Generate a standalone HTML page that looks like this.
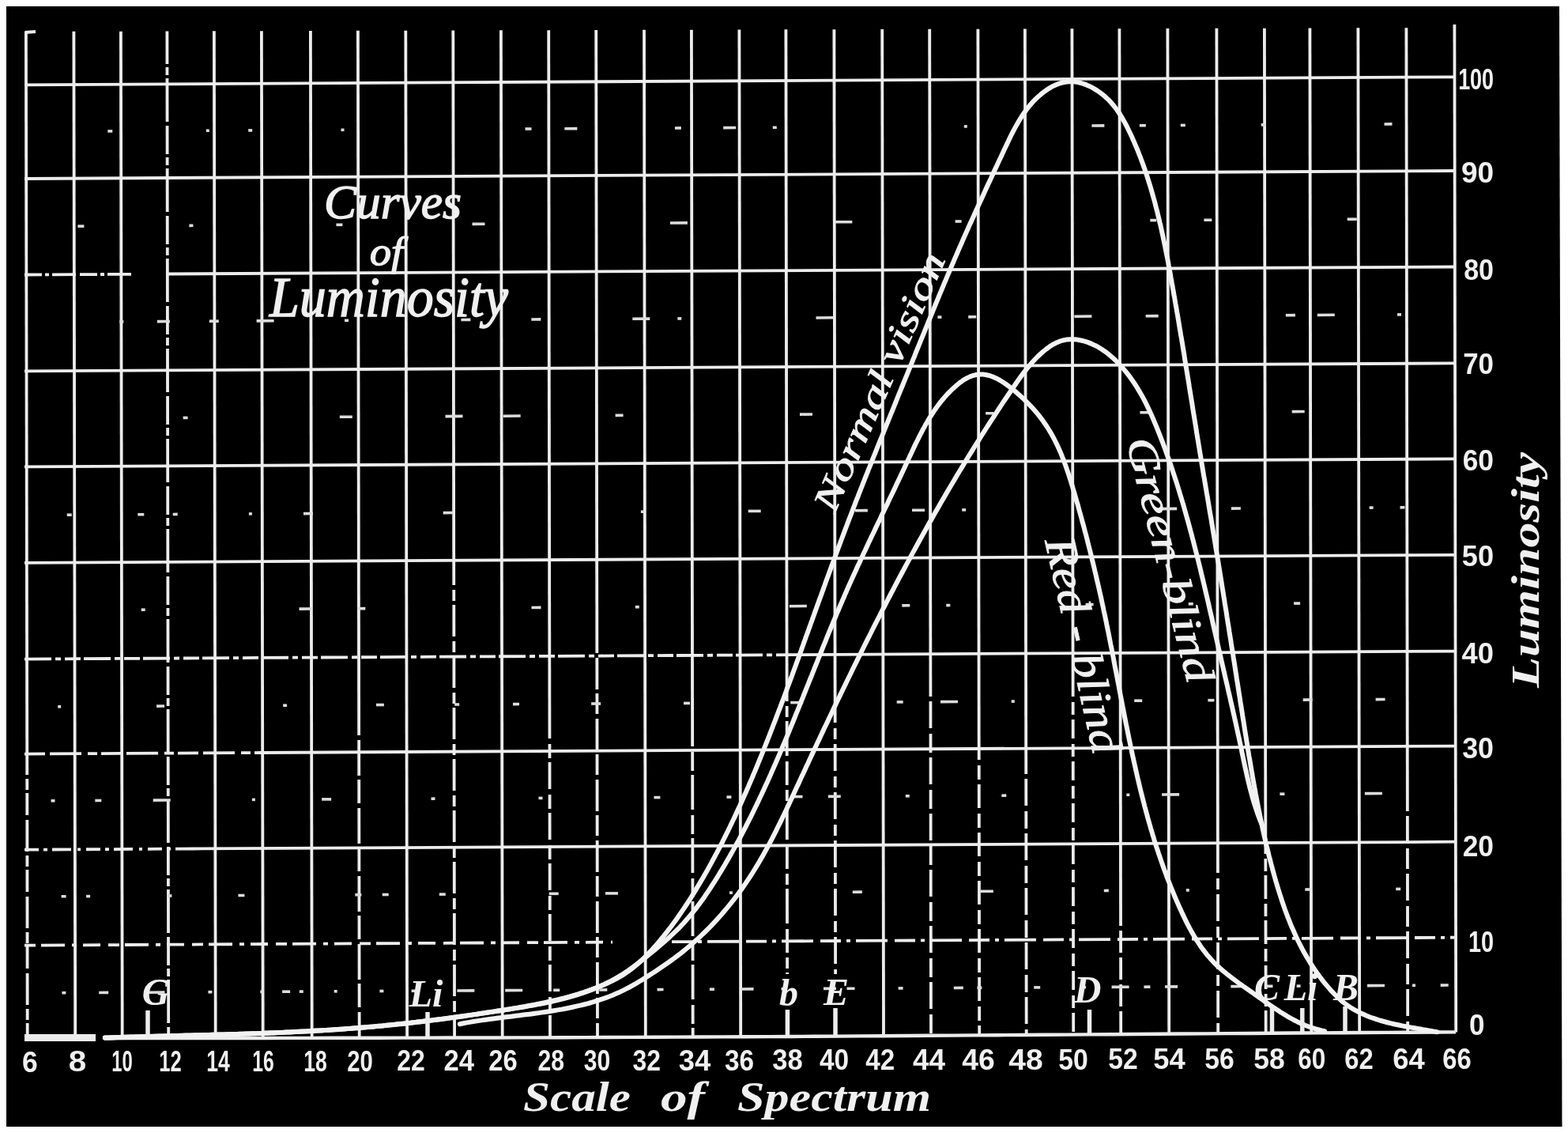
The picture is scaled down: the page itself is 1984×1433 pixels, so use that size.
<!DOCTYPE html><html><head><meta charset="utf-8"><style>html,body{margin:0;padding:0;background:#fff;overflow:hidden}svg{display:block}</style></head><body><svg width="1984" height="1433" viewBox="0 0 1984 1433">
<rect width="1984" height="1433" fill="#fff"/>
<polygon points="8,8 1973,8 1976.5,1425 8,1425" fill="#000"/>
<g stroke="#ececec" stroke-width="3.8" fill="none"><line x1="32.9" y1="40.0" x2="34.2" y2="940.0"/><line x1="34.2" y1="940.0" x2="34.7" y2="1313.3" stroke-dasharray="40 5 14 4 28 6"/><line x1="93.4" y1="39.8" x2="95.2" y2="1313.2"/><line x1="152.9" y1="39.7" x2="154.7" y2="1313.2"/><line x1="211.4" y1="39.5" x2="211.4" y2="45.0"/><line x1="211.4" y1="45.0" x2="213.2" y2="1313.1" stroke-dasharray="36 4 10 4 55 5"/><line x1="270.9" y1="39.3" x2="272.7" y2="1313.0"/><line x1="330.9" y1="39.2" x2="332.7" y2="1312.9"/><line x1="392.9" y1="39.0" x2="394.7" y2="1312.8"/><line x1="452.9" y1="38.8" x2="454.1" y2="900.0"/><line x1="454.1" y1="900.0" x2="454.7" y2="1312.7" stroke-dasharray="30 6 45 5"/><line x1="513.3" y1="38.7" x2="515.1" y2="1312.6"/><line x1="573.3" y1="38.5" x2="574.2" y2="700.0"/><line x1="574.2" y1="700.0" x2="575.1" y2="1312.5" stroke-dasharray="40 6 14 5"/><line x1="633.9" y1="38.3" x2="635.7" y2="1312.4"/><line x1="694.2" y1="38.2" x2="695.4" y2="900.0"/><line x1="695.4" y1="900.0" x2="696.0" y2="1312.3" stroke-dasharray="34 7 18 5"/><line x1="754.2" y1="38.0" x2="755.3" y2="800.0"/><line x1="755.3" y1="800.0" x2="756.0" y2="1312.1" stroke-dasharray="26 6 40 5"/><line x1="815.0" y1="37.8" x2="816.8" y2="1311.8"/><line x1="874.9" y1="37.7" x2="876.1" y2="900.0"/><line x1="876.1" y1="900.0" x2="876.7" y2="1311.5" stroke-dasharray="44 7 24 5"/><line x1="935.4" y1="37.5" x2="937.2" y2="1311.3"/><line x1="994.4" y1="37.3" x2="995.6" y2="857.0"/><line x1="995.6" y1="857.0" x2="996.1" y2="1232.0" stroke-dasharray="30 6 14 5 44 7"/><line x1="996.1" y1="1277.0" x2="996.2" y2="1311.0" stroke-dasharray="30 6 14 5 44 7"/><line x1="1055.4" y1="37.2" x2="1056.6" y2="880.0"/><line x1="1056.6" y1="880.0" x2="1057.1" y2="1232.0" stroke-dasharray="34 7 14 6"/><line x1="1057.1" y1="1275.0" x2="1057.2" y2="1310.6" stroke-dasharray="34 7 14 6"/><line x1="1116.2" y1="37.0" x2="1118.0" y2="1310.2"/><line x1="1176.2" y1="36.8" x2="1177.4" y2="857.0"/><line x1="1177.4" y1="857.0" x2="1178.0" y2="1309.8" stroke-dasharray="24 6 34 7"/><line x1="1237.4" y1="36.7" x2="1238.7" y2="931.0"/><line x1="1238.7" y1="931.0" x2="1239.2" y2="1309.4" stroke-dasharray="30 7 18 6"/><line x1="1296.9" y1="36.5" x2="1298.2" y2="957.0"/><line x1="1298.2" y1="957.0" x2="1298.7" y2="1309.0" stroke-dasharray="22 6 34 7"/><line x1="1356.4" y1="36.3" x2="1357.6" y2="857.0"/><line x1="1357.6" y1="857.0" x2="1358.2" y2="1308.6" stroke-dasharray="24 7 16 6"/><line x1="1416.4" y1="36.2" x2="1418.0" y2="1143.0"/><line x1="1418.0" y1="1143.0" x2="1418.2" y2="1308.1" stroke-dasharray="28 6"/><line x1="1477.4" y1="36.0" x2="1479.2" y2="1307.7"/><line x1="1539.4" y1="35.8" x2="1540.9" y2="1070.0"/><line x1="1540.9" y1="1070.0" x2="1541.2" y2="1307.2" stroke-dasharray="34 7 14 6"/><line x1="1599.9" y1="35.7" x2="1601.3" y2="1050.0"/><line x1="1601.3" y1="1050.0" x2="1601.7" y2="1306.8" stroke-dasharray="30 6 16 5"/><line x1="1657.4" y1="35.5" x2="1659.2" y2="1306.5"/><line x1="1718.4" y1="35.3" x2="1720.2" y2="1306.1"/><line x1="1779.4" y1="35.2" x2="1780.8" y2="1000.0"/><line x1="1780.8" y1="1000.0" x2="1781.2" y2="1305.8" stroke-dasharray="26 6 34 7"/><line x1="1840.4" y1="31.0" x2="1842.2" y2="1305.4"/><line x1="31.0" y1="107.3" x2="1842.0" y2="97.3"/><line x1="31.0" y1="226.0" x2="1842.0" y2="216.0"/><line x1="31.0" y1="469.4" x2="1842.0" y2="459.4"/><line x1="31.0" y1="590.4" x2="1842.0" y2="580.4"/><line x1="31.0" y1="711.8" x2="1842.0" y2="701.8"/><line x1="31.0" y1="347.5" x2="168.0" y2="346.8" stroke-dasharray="22 4 5 4 30 5"/><line x1="210.0" y1="346.5" x2="1842.0" y2="337.5"/><line x1="31.0" y1="833.6" x2="1000.0" y2="828.2" stroke-dasharray="34 5 7 5 20 4"/><line x1="1000.0" y1="828.2" x2="1842.0" y2="823.6"/><line x1="31.0" y1="953.6" x2="330.0" y2="952.0" stroke-dasharray="26 6 40 8 12 5"/><line x1="330.0" y1="952.0" x2="1842.0" y2="943.6"/><line x1="31.0" y1="1074.7" x2="245.0" y2="1073.5" stroke-dasharray="18 6 5 6 24 8 4 7"/><line x1="245.0" y1="1073.5" x2="1842.0" y2="1064.7"/><line x1="31.0" y1="1195.7" x2="775.0" y2="1191.6" stroke-dasharray="14 7 30 9 6 8 22 10"/><line x1="850.0" y1="1191.2" x2="1842.0" y2="1185.7" stroke-dasharray="26 7 5 7 40 9"/></g>
<g stroke="#dcdcdc" stroke-width="3.6" fill="none"><line x1="136.3" y1="165.9" x2="142.3" y2="165.9"/><line x1="260.8" y1="165.2" x2="264.8" y2="165.2"/><line x1="314.2" y1="164.9" x2="319.2" y2="164.9"/><line x1="431.5" y1="164.3" x2="435.5" y2="164.3"/><line x1="664.5" y1="163.0" x2="672.5" y2="163.0"/><line x1="714.4" y1="162.7" x2="730.4" y2="162.6"/><line x1="853.9" y1="162.0" x2="861.9" y2="161.9"/><line x1="915.2" y1="161.6" x2="931.2" y2="161.5"/><line x1="977.8" y1="161.3" x2="982.8" y2="161.2"/><line x1="1219.8" y1="159.9" x2="1223.8" y2="159.9"/><line x1="1381.4" y1="159.0" x2="1397.4" y2="158.9"/><line x1="1441.9" y1="158.7" x2="1449.9" y2="158.7"/><line x1="1493.8" y1="158.4" x2="1499.8" y2="158.4"/><line x1="1595.7" y1="157.9" x2="1601.7" y2="157.8"/><line x1="1751.5" y1="157.0" x2="1761.5" y2="156.9"/><line x1="98.4" y1="286.1" x2="106.4" y2="286.1"/><line x1="239.4" y1="285.4" x2="244.4" y2="285.3"/><line x1="425.4" y1="284.3" x2="433.4" y2="284.3"/><line x1="597.5" y1="283.4" x2="613.5" y2="283.3"/><line x1="847.9" y1="282.0" x2="869.9" y2="281.9"/><line x1="1056.3" y1="280.8" x2="1078.3" y2="280.7"/><line x1="1208.6" y1="280.0" x2="1216.6" y2="280.0"/><line x1="1455.3" y1="278.6" x2="1463.3" y2="278.6"/><line x1="1523.4" y1="278.3" x2="1533.4" y2="278.2"/><line x1="1704.7" y1="277.2" x2="1716.7" y2="277.2"/><line x1="151.3" y1="406.8" x2="156.3" y2="406.8"/><line x1="198.9" y1="406.6" x2="214.9" y2="406.5"/><line x1="264.8" y1="406.2" x2="276.8" y2="406.2"/><line x1="324.6" y1="405.9" x2="346.6" y2="405.8"/><line x1="436.0" y1="405.3" x2="441.0" y2="405.2"/><line x1="583.4" y1="404.5" x2="595.4" y2="404.4"/><line x1="672.3" y1="404.0" x2="684.3" y2="403.9"/><line x1="800.3" y1="403.3" x2="822.3" y2="403.1"/><line x1="857.3" y1="402.9" x2="862.3" y2="402.9"/><line x1="1032.5" y1="402.0" x2="1054.5" y2="401.8"/><line x1="1186.4" y1="401.1" x2="1191.4" y2="401.1"/><line x1="1225.2" y1="400.9" x2="1235.2" y2="400.8"/><line x1="1359.4" y1="400.2" x2="1381.4" y2="400.0"/><line x1="1449.7" y1="399.7" x2="1465.7" y2="399.6"/><line x1="1626.9" y1="398.7" x2="1638.9" y2="398.6"/><line x1="1666.8" y1="398.5" x2="1688.8" y2="398.3"/><line x1="1768.0" y1="397.9" x2="1773.0" y2="397.9"/><line x1="231.6" y1="528.4" x2="237.6" y2="528.4"/><line x1="429.8" y1="527.3" x2="445.8" y2="527.2"/><line x1="563.5" y1="526.6" x2="585.5" y2="526.4"/><line x1="636.7" y1="526.2" x2="658.7" y2="526.0"/><line x1="778.6" y1="525.4" x2="788.6" y2="525.3"/><line x1="1012.0" y1="524.1" x2="1028.0" y2="524.0"/><line x1="1247.1" y1="522.8" x2="1257.1" y2="522.7"/><line x1="1442.4" y1="521.7" x2="1454.4" y2="521.6"/><line x1="1634.7" y1="520.6" x2="1650.7" y2="520.5"/><line x1="84.7" y1="651.2" x2="90.7" y2="651.2"/><line x1="174.3" y1="650.7" x2="182.3" y2="650.7"/><line x1="218.7" y1="650.5" x2="224.7" y2="650.4"/><line x1="314.9" y1="649.9" x2="318.9" y2="649.9"/><line x1="384.0" y1="649.6" x2="396.0" y2="649.5"/><line x1="560.7" y1="648.6" x2="572.7" y2="648.5"/><line x1="810.9" y1="647.2" x2="814.9" y2="647.2"/><line x1="946.7" y1="646.4" x2="962.7" y2="646.4"/><line x1="1081.9" y1="645.7" x2="1097.9" y2="645.6"/><line x1="1154.0" y1="645.3" x2="1170.0" y2="645.2"/><line x1="1217.2" y1="644.9" x2="1222.2" y2="644.9"/><line x1="1467.2" y1="643.6" x2="1489.2" y2="643.4"/><line x1="1557.9" y1="643.1" x2="1569.9" y2="643.0"/><line x1="1732.6" y1="642.1" x2="1737.6" y2="642.1"/><line x1="1771.5" y1="641.9" x2="1777.5" y2="641.8"/><line x1="178.7" y1="771.2" x2="183.7" y2="771.2"/><line x1="378.5" y1="770.1" x2="394.5" y2="770.0"/><line x1="452.3" y1="769.7" x2="462.3" y2="769.6"/><line x1="672.5" y1="768.5" x2="684.5" y2="768.4"/><line x1="803.8" y1="767.7" x2="808.8" y2="767.7"/><line x1="998.8" y1="766.7" x2="1020.8" y2="766.5"/><line x1="1141.3" y1="765.9" x2="1151.3" y2="765.8"/><line x1="1197.3" y1="765.6" x2="1202.3" y2="765.5"/><line x1="1373.6" y1="764.6" x2="1383.6" y2="764.5"/><line x1="1503.8" y1="763.9" x2="1509.8" y2="763.8"/><line x1="1637.1" y1="763.1" x2="1645.1" y2="763.1"/><line x1="73.2" y1="893.8" x2="77.2" y2="893.8"/><line x1="198.1" y1="893.1" x2="208.1" y2="893.0"/><line x1="358.1" y1="892.2" x2="363.1" y2="892.2"/><line x1="475.9" y1="891.5" x2="485.9" y2="891.5"/><line x1="575.2" y1="891.0" x2="581.2" y2="891.0"/><line x1="649.0" y1="890.6" x2="657.0" y2="890.5"/><line x1="748.1" y1="890.0" x2="760.1" y2="890.0"/><line x1="865.0" y1="889.4" x2="873.0" y2="889.4"/><line x1="1000.2" y1="888.6" x2="1016.2" y2="888.6"/><line x1="1134.7" y1="887.9" x2="1142.7" y2="887.9"/><line x1="1190.0" y1="887.6" x2="1212.0" y2="887.5"/><line x1="1279.8" y1="887.1" x2="1283.8" y2="887.1"/><line x1="1435.2" y1="886.2" x2="1445.2" y2="886.2"/><line x1="1528.4" y1="885.7" x2="1536.4" y2="885.7"/><line x1="1648.7" y1="885.1" x2="1660.7" y2="885.0"/><line x1="1740.6" y1="884.6" x2="1752.6" y2="884.5"/><line x1="64.5" y1="1012.8" x2="69.5" y2="1012.8"/><line x1="120.3" y1="1012.5" x2="128.3" y2="1012.5"/><line x1="193.7" y1="1012.1" x2="215.7" y2="1012.0"/><line x1="318.9" y1="1011.4" x2="322.9" y2="1011.4"/><line x1="407.1" y1="1010.9" x2="419.1" y2="1010.9"/><line x1="545.5" y1="1010.2" x2="550.5" y2="1010.1"/><line x1="681.5" y1="1009.4" x2="686.5" y2="1009.4"/><line x1="827.4" y1="1008.6" x2="835.4" y2="1008.6"/><line x1="919.4" y1="1008.1" x2="925.4" y2="1008.1"/><line x1="1003.5" y1="1007.6" x2="1015.5" y2="1007.6"/><line x1="1047.8" y1="1007.4" x2="1063.8" y2="1007.3"/><line x1="1145.8" y1="1006.8" x2="1150.8" y2="1006.8"/><line x1="1267.3" y1="1006.2" x2="1273.3" y2="1006.1"/><line x1="1425.3" y1="1005.3" x2="1429.3" y2="1005.3"/><line x1="1470.1" y1="1005.0" x2="1492.1" y2="1004.9"/><line x1="1619.4" y1="1004.2" x2="1625.4" y2="1004.2"/><line x1="1726.9" y1="1003.6" x2="1748.9" y2="1003.5"/><line x1="77.6" y1="1133.8" x2="83.6" y2="1133.7"/><line x1="109.1" y1="1133.6" x2="114.1" y2="1133.6"/><line x1="211.4" y1="1133.0" x2="217.4" y2="1133.0"/><line x1="301.4" y1="1132.5" x2="309.4" y2="1132.5"/><line x1="449.3" y1="1131.7" x2="457.3" y2="1131.7"/><line x1="483.7" y1="1131.5" x2="491.7" y2="1131.5"/><line x1="555.8" y1="1131.1" x2="563.8" y2="1131.1"/><line x1="694.7" y1="1130.3" x2="706.7" y2="1130.3"/><line x1="766.0" y1="1129.9" x2="782.0" y2="1129.9"/><line x1="923.0" y1="1129.1" x2="927.0" y2="1129.1"/><line x1="1078.8" y1="1128.2" x2="1090.8" y2="1128.1"/><line x1="1240.8" y1="1127.3" x2="1256.8" y2="1127.2"/><line x1="1396.8" y1="1126.5" x2="1402.8" y2="1126.4"/><line x1="1500.8" y1="1125.9" x2="1504.8" y2="1125.9"/><line x1="1651.3" y1="1125.0" x2="1657.3" y2="1125.0"/><line x1="1766.2" y1="1124.4" x2="1772.2" y2="1124.4"/><line x1="78.4" y1="1255.7" x2="83.4" y2="1255.7"/><line x1="125.2" y1="1255.5" x2="137.2" y2="1255.4"/><line x1="186.4" y1="1255.2" x2="208.4" y2="1255.0"/><line x1="263.4" y1="1254.7" x2="268.4" y2="1254.7"/><line x1="329.3" y1="1254.4" x2="333.3" y2="1254.3"/><line x1="357.1" y1="1254.2" x2="367.1" y2="1254.2"/><line x1="378.8" y1="1254.1" x2="383.8" y2="1254.1"/><line x1="422.7" y1="1253.8" x2="426.7" y2="1253.8"/><line x1="480.4" y1="1253.5" x2="485.4" y2="1253.5"/><line x1="520.6" y1="1253.3" x2="528.6" y2="1253.3"/><line x1="578.3" y1="1253.0" x2="600.3" y2="1252.9"/><line x1="639.2" y1="1252.6" x2="661.2" y2="1252.5"/><line x1="700.2" y1="1252.3" x2="708.2" y2="1252.3"/><line x1="758.3" y1="1252.0" x2="768.3" y2="1251.9"/><line x1="831.5" y1="1251.6" x2="839.5" y2="1251.5"/><line x1="897.9" y1="1251.2" x2="903.9" y2="1251.2"/><line x1="937.5" y1="1251.0" x2="953.5" y2="1250.9"/><line x1="988.5" y1="1250.7" x2="993.5" y2="1250.7"/><line x1="1042.0" y1="1250.4" x2="1058.0" y2="1250.3"/><line x1="1071.5" y1="1250.3" x2="1081.5" y2="1250.2"/><line x1="1136.6" y1="1249.9" x2="1142.6" y2="1249.9"/><line x1="1206.8" y1="1249.5" x2="1218.8" y2="1249.4"/><line x1="1236.4" y1="1249.3" x2="1242.4" y2="1249.3"/><line x1="1308.2" y1="1248.9" x2="1316.2" y2="1248.9"/><line x1="1369.1" y1="1248.6" x2="1374.1" y2="1248.6"/><line x1="1406.6" y1="1248.4" x2="1428.6" y2="1248.3"/><line x1="1447.4" y1="1248.2" x2="1455.4" y2="1248.1"/><line x1="1474.0" y1="1248.0" x2="1490.0" y2="1247.9"/><line x1="1557.4" y1="1247.6" x2="1573.4" y2="1247.5"/><line x1="1602.5" y1="1247.3" x2="1610.5" y2="1247.3"/><line x1="1640.6" y1="1247.1" x2="1645.6" y2="1247.1"/><line x1="1697.0" y1="1246.8" x2="1701.0" y2="1246.8"/><line x1="1730.0" y1="1246.6" x2="1752.0" y2="1246.5"/><line x1="1787.0" y1="1246.3" x2="1791.0" y2="1246.3"/><line x1="1822.7" y1="1246.1" x2="1832.7" y2="1246.0"/></g>
<polyline points="132.0,1313.19 161.0,1313.16 190.0,1313.12 218.9,1313.09 247.9,1313.06 276.9,1313.03 305.9,1312.99 334.9,1312.94 363.9,1312.89 392.8,1312.84 421.8,1312.79 450.8,1312.74 479.8,1312.69 508.8,1312.63 537.8,1312.58 566.7,1312.53 595.7,1312.48 624.7,1312.43 653.7,1312.38 682.7,1312.33 711.7,1312.25 740.6,1312.12 769.6,1312.00 798.6,1311.87 827.6,1311.75 856.6,1311.62 885.6,1311.50 914.5,1311.37 943.5,1311.24 972.5,1311.12 1001.5,1310.99 1030.5,1310.79 1059.5,1310.59 1088.4,1310.39 1117.4,1310.20 1146.4,1310.00 1175.4,1309.80 1204.4,1309.60 1233.4,1309.40 1262.3,1309.21 1291.3,1309.01 1320.3,1308.81 1349.3,1308.61 1378.3,1308.41 1407.3,1308.20 1436.2,1307.99 1465.2,1307.78 1494.2,1307.57 1523.2,1307.36 1552.2,1307.15 1581.2,1306.94 1610.1,1306.74 1639.1,1306.57 1668.1,1306.41 1697.1,1306.24 1726.1,1306.07 1755.1,1305.90 1784.0,1305.74 1813.0,1305.57 1842.0,1305.40" fill="none" stroke="#ececec" stroke-width="4.4"/>
<rect x="31" y="1308" width="90" height="9" fill="#ececec"/>
<line x1="31.5" y1="41" x2="45" y2="40" stroke="#ececec" stroke-width="3.8"/>
<g stroke="#f2f2f2" stroke-width="6" fill="none" stroke-linecap="round" stroke-linejoin="round"><path d="M132.8,1312.5L136.5,1312.4 140.2,1312.3 143.9,1312.2 147.6,1312.1 151.3,1312.0 155.0,1311.9 158.7,1311.8 162.4,1311.7 166.0,1311.6 169.7,1311.5 173.4,1311.4 177.1,1311.3 180.8,1311.2 184.5,1311.1 188.2,1311.0 191.9,1310.9 195.6,1310.8 199.3,1310.7 203.0,1310.6 206.7,1310.5 210.4,1310.4 214.1,1310.3 217.8,1310.2 221.5,1310.1 225.2,1310.0 228.9,1309.9 232.6,1309.8 236.3,1309.7 240.0,1309.7 243.7,1309.6 247.4,1309.5 251.1,1309.4 254.8,1309.3 258.5,1309.2 262.1,1309.1 265.8,1309.0 269.5,1308.8 273.2,1308.7 276.9,1308.6 280.6,1308.5 284.3,1308.4 288.0,1308.3 291.7,1308.2 295.4,1308.1 299.1,1307.9 302.8,1307.8 306.5,1307.7 310.2,1307.6 313.9,1307.5 317.6,1307.3 321.3,1307.2 325.0,1307.1 328.7,1306.9 332.4,1306.8 336.1,1306.6 339.8,1306.5 343.5,1306.3 347.2,1306.2 350.9,1306.0 354.6,1305.9 358.3,1305.7 361.9,1305.5 365.6,1305.4 369.3,1305.2 373.0,1305.0 376.7,1304.8 380.4,1304.6 384.1,1304.4 387.8,1304.3 391.5,1304.1 395.2,1303.8 398.9,1303.6 402.6,1303.4 406.3,1303.2 409.9,1303.0 413.6,1302.8 417.3,1302.5 421.0,1302.3 424.7,1302.0 428.4,1301.8 432.1,1301.5 435.8,1301.3 439.4,1301.0 443.1,1300.8 446.8,1300.5 450.5,1300.2 454.2,1299.9 457.9,1299.6 461.6,1299.3 465.2,1299.0 468.9,1298.7 472.6,1298.4 476.3,1298.1 480.0,1297.7 483.6,1297.4 487.3,1297.1 491.0,1296.7 494.7,1296.3 498.4,1296.0 502.0,1295.6 505.7,1295.2 509.4,1294.9 513.1,1294.5 516.7,1294.1 520.4,1293.7 524.1,1293.2 527.7,1292.8 531.4,1292.4 535.1,1292.0 538.8,1291.5 542.4,1291.1 546.1,1290.6 549.8,1290.1 553.4,1289.7 557.1,1289.2 560.8,1288.7 564.4,1288.2 568.1,1287.7 571.8,1287.2 575.4,1286.7 579.1,1286.2 582.7,1285.7 586.4,1285.2 590.1,1284.7 593.7,1284.1 597.4,1283.6 601.0,1283.0 604.7,1282.5 608.4,1281.9 612.0,1281.4 615.7,1280.8 619.3,1280.3 623.0,1279.7 626.7,1279.1 630.3,1278.5 634.0,1278.0 637.6,1277.4 641.3,1276.8 644.9,1276.2 648.6,1275.6 652.2,1275.0 655.9,1274.4 659.5,1273.7 663.2,1273.1 666.8,1272.4 670.4,1271.8 674.1,1271.1 677.7,1270.4 681.3,1269.7 685.0,1268.9 688.6,1268.2 692.2,1267.4 695.8,1266.6 699.4,1265.8 703.0,1265.0 706.6,1264.1 710.2,1263.2 713.7,1262.3 717.3,1261.3 720.9,1260.4 724.4,1259.4 728.0,1258.3 731.5,1257.3 735.0,1256.1 738.5,1255.0 742.0,1253.8 745.5,1252.6 749.0,1251.4 752.5,1250.1 756.0,1248.7 759.4,1247.3 762.9,1245.9 766.3,1244.4 769.7,1242.9 773.0,1241.3 776.4,1239.7 779.6,1238.0 782.9,1236.2 786.1,1234.3 789.2,1232.4 792.3,1230.3 795.3,1228.2 798.2,1226.1 801.1,1223.8 804.0,1221.5 806.8,1219.1 809.5,1216.7 812.3,1214.2 814.9,1211.6 817.5,1209.0 820.1,1206.4 822.7,1203.7 825.2,1201.0 827.6,1198.3 830.1,1195.5 832.5,1192.7 834.9,1189.8 837.2,1187.0 839.6,1184.1 841.9,1181.2 844.2,1178.3 846.4,1175.4 848.7,1172.5 850.9,1169.5 853.1,1166.5 855.3,1163.6 857.4,1160.5 859.5,1157.5 861.6,1154.5 863.7,1151.4 865.8,1148.4 867.8,1145.3 869.9,1142.2 871.9,1139.1 873.9,1136.0 875.8,1132.9 877.8,1129.7 879.7,1126.6 881.6,1123.4 883.5,1120.2 885.4,1117.1 887.3,1113.9 889.2,1110.7 891.0,1107.5 892.9,1104.3 894.7,1101.1 896.5,1097.9 898.3,1094.6 900.1,1091.4 901.8,1088.2 903.6,1084.9 905.3,1081.6 907.1,1078.4 908.8,1075.1 910.5,1071.8 912.2,1068.6 913.9,1065.3 915.5,1062.0 917.2,1058.7 918.8,1055.4 920.5,1052.1 922.1,1048.8 923.7,1045.5 925.3,1042.1 926.9,1038.8 928.5,1035.5 930.1,1032.1 931.6,1028.8 933.2,1025.4 934.7,1022.1 936.3,1018.7 937.8,1015.3 939.3,1012.0 940.8,1008.6 942.3,1005.2 943.8,1001.9 945.3,998.5 946.8,995.1 948.2,991.7 949.7,988.3 951.2,984.9 952.6,981.5 954.0,978.1 955.5,974.7 956.9,971.3 958.3,967.8 959.7,964.4 961.1,961.0 962.5,957.6 963.9,954.1 965.3,950.7 966.7,947.3 968.0,943.8 969.4,940.4 970.8,937.0 972.1,933.5 973.5,930.1 974.8,926.6 976.2,923.2 977.5,919.7 978.8,916.3 980.2,912.8 981.5,909.4 982.8,905.9 984.1,902.5 985.4,899.0 986.8,895.6 988.1,892.1 989.4,888.6 990.7,885.2 992.0,881.7 993.3,878.2 994.6,874.8 995.8,871.3 997.1,867.8 998.4,864.4 999.7,860.9 1001.0,857.4 1002.3,854.0 1003.5,850.5 1004.8,847.0 1006.1,843.6 1007.3,840.1 1008.6,836.6 1009.9,833.1 1011.1,829.7 1012.4,826.2 1013.7,822.7 1014.9,819.2 1016.2,815.8 1017.4,812.3 1018.7,808.8 1019.9,805.3 1021.2,801.8 1022.5,798.4 1023.7,794.9 1025.0,791.4 1026.2,787.9 1027.5,784.5 1028.7,781.0 1030.0,777.5 1031.2,774.0 1032.5,770.5 1033.7,767.1 1035.0,763.6 1036.2,760.1 1037.5,756.6 1038.8,753.2 1040.0,749.7 1041.3,746.2 1042.5,742.7 1043.8,739.3 1045.0,735.8 1046.3,732.3 1047.6,728.8 1048.8,725.4 1050.1,721.9 1051.4,718.4 1052.6,715.0 1053.9,711.5 1055.2,708.0 1056.5,704.6 1057.7,701.1 1059.0,697.6 1060.3,694.2 1061.6,690.7 1062.9,687.2 1064.2,683.8 1065.5,680.3 1066.8,676.9 1068.1,673.4 1069.4,669.9 1070.7,666.5 1072.0,663.0 1073.3,659.6 1074.6,656.1 1076.0,652.7 1077.3,649.2 1078.6,645.8 1079.9,642.3 1081.3,638.9 1082.6,635.4 1083.9,632.0 1085.3,628.6 1086.6,625.1 1088.0,621.7 1089.3,618.2 1090.7,614.8 1092.0,611.4 1093.4,607.9 1094.7,604.5 1096.1,601.1 1097.5,597.6 1098.8,594.2 1100.2,590.8 1101.6,587.3 1102.9,583.9 1104.3,580.5 1105.7,577.0 1107.1,573.6 1108.5,570.2 1109.8,566.7 1111.2,563.3 1112.6,559.9 1114.0,556.5 1115.4,553.0 1116.8,549.6 1118.1,546.2 1119.5,542.8 1120.9,539.3 1122.3,535.9 1123.7,532.5 1125.1,529.1 1126.5,525.6 1127.9,522.2 1129.3,518.8 1130.7,515.4 1132.1,511.9 1133.5,508.5 1134.8,505.1 1136.2,501.7 1137.6,498.2 1139.0,494.8 1140.4,491.4 1141.8,488.0 1143.2,484.5 1144.6,481.1 1146.0,477.7 1147.4,474.3 1148.8,470.8 1150.2,467.4 1151.6,464.0 1153.0,460.6 1154.4,457.1 1155.8,453.7 1157.2,450.3 1158.5,446.9 1159.9,443.4 1161.3,440.0 1162.7,436.6 1164.1,433.1 1165.5,429.7 1166.9,426.3 1168.3,422.9 1169.7,419.4 1171.1,416.0 1172.5,412.6 1173.9,409.2 1175.3,405.7 1176.7,402.3 1178.1,398.9 1179.5,395.5 1180.9,392.0 1182.3,388.6 1183.7,385.2 1185.1,381.8 1186.5,378.4 1187.9,375.0 1189.3,371.5 1190.8,368.1 1192.2,364.7 1193.6,361.3 1195.0,357.9 1196.5,354.5 1197.9,351.1 1199.3,347.7 1200.8,344.3 1202.2,340.9 1203.7,337.5 1205.1,334.1 1206.6,330.7 1208.0,327.3 1209.5,323.9 1211.0,320.5 1212.4,317.2 1213.9,313.8 1215.4,310.4 1216.9,307.0 1218.3,303.7 1219.8,300.3 1221.3,296.9 1222.8,293.5 1224.3,290.2 1225.8,286.8 1227.3,283.4 1228.9,280.1 1230.4,276.7 1231.9,273.4 1233.4,270.0 1234.9,266.6 1236.5,263.3 1238.0,259.9 1239.5,256.6 1241.1,253.2 1242.6,249.9 1244.2,246.5 1245.7,243.1 1247.2,239.8 1248.8,236.4 1250.3,233.1 1251.9,229.7 1253.5,226.4 1255.0,223.0 1256.6,219.6 1258.1,216.3 1259.7,212.9 1261.3,209.6 1262.8,206.2 1264.4,202.8 1266.0,199.5 1267.6,196.1 1269.1,192.7 1270.7,189.3 1272.3,186.0 1273.9,182.6 1275.5,179.2 1277.1,175.9 1278.7,172.5 1280.4,169.2 1282.1,165.9 1283.8,162.6 1285.6,159.4 1287.4,156.2 1289.3,153.0 1291.2,149.8 1293.2,146.7 1295.2,143.7 1297.3,140.7 1299.5,137.7 1301.8,134.8 1304.2,132.0 1306.6,129.2 1309.2,126.5 1311.9,123.9 1314.6,121.4 1317.5,118.9 1320.4,116.6 1323.4,114.4 1326.5,112.3 1329.7,110.4 1332.9,108.7 1336.2,107.2 1339.6,105.9 1343.0,104.9 1346.4,104.0 1349.9,103.5 1353.5,103.2 1357.0,103.2 1360.6,103.5 1364.2,104.1 1367.7,105.0 1371.3,106.1 1374.8,107.4 1378.3,108.9 1381.7,110.7 1385.1,112.6 1388.3,114.6 1391.5,116.8 1394.6,119.1 1397.5,121.5 1400.3,124.1 1403.0,126.7 1405.6,129.4 1408.0,132.2 1410.3,135.0 1412.6,138.0 1414.7,141.0 1416.7,144.0 1418.7,147.1 1420.5,150.3 1422.3,153.4 1424.1,156.7 1425.8,159.9 1427.4,163.2 1429.0,166.5 1430.6,169.8 1432.1,173.1 1433.6,176.5 1435.1,179.8 1436.5,183.2 1438.0,186.6 1439.4,190.0 1440.7,193.4 1442.1,196.8 1443.4,200.2 1444.7,203.7 1445.9,207.1 1447.2,210.6 1448.4,214.0 1449.6,217.5 1450.8,221.0 1451.9,224.5 1453.0,228.0 1454.1,231.5 1455.2,235.0 1456.3,238.6 1457.3,242.1 1458.3,245.6 1459.3,249.2 1460.3,252.8 1461.3,256.3 1462.2,259.9 1463.1,263.5 1464.1,267.1 1464.9,270.7 1465.8,274.3 1466.7,277.9 1467.5,281.5 1468.4,285.1 1469.2,288.7 1470.0,292.3 1470.8,296.0 1471.6,299.6 1472.3,303.2 1473.1,306.9 1473.9,310.5 1474.6,314.1 1475.3,317.8 1476.0,321.4 1476.8,325.1 1477.5,328.7 1478.2,332.4 1478.8,336.1 1479.5,339.7 1480.2,343.4 1480.9,347.0 1481.5,350.7 1482.2,354.3 1482.8,358.0 1483.5,361.6 1484.1,365.3 1484.8,368.9 1485.4,372.6 1486.1,376.3 1486.7,379.9 1487.3,383.6 1488.0,387.2 1488.6,390.8 1489.2,394.5 1489.9,398.1 1490.5,401.8 1491.1,405.4 1491.7,409.1 1492.3,412.7 1492.9,416.4 1493.5,420.0 1494.1,423.7 1494.8,427.3 1495.4,430.9 1496.0,434.6 1496.6,438.2 1497.2,441.9 1497.8,445.5 1498.4,449.1 1498.9,452.8 1499.5,456.4 1500.1,460.1 1500.7,463.7 1501.3,467.3 1501.9,471.0 1502.5,474.6 1503.1,478.3 1503.7,481.9 1504.3,485.5 1504.8,489.2 1505.4,492.8 1506.0,496.4 1506.6,500.1 1507.2,503.7 1507.8,507.4 1508.4,511.0 1508.9,514.6 1509.5,518.3 1510.1,521.9 1510.7,525.6 1511.3,529.2 1511.9,532.8 1512.5,536.5 1513.1,540.1 1513.6,543.8 1514.2,547.4 1514.8,551.0 1515.4,554.7 1516.0,558.3 1516.6,562.0 1517.2,565.6 1517.8,569.3 1518.4,572.9 1519.0,576.5 1519.6,580.2 1520.2,583.8 1520.8,587.5 1521.4,591.1 1522.0,594.8 1522.6,598.4 1523.2,602.1 1523.9,605.7 1524.5,609.4 1525.1,613.0 1525.7,616.7 1526.3,620.3 1526.9,624.0 1527.6,627.6 1528.2,631.3 1528.8,634.9 1529.4,638.6 1530.0,642.2 1530.6,645.9 1531.2,649.5 1531.9,653.2 1532.5,656.8 1533.1,660.5 1533.7,664.2 1534.3,667.8 1534.9,671.5 1535.5,675.1 1536.1,678.8 1536.7,682.4 1537.3,686.1 1537.9,689.7 1538.5,693.4 1539.1,697.0 1539.7,700.7 1540.3,704.3 1540.9,708.0 1541.5,711.6 1542.1,715.2 1542.7,718.9 1543.3,722.5 1543.9,726.2 1544.5,729.8 1545.1,733.5 1545.6,737.1 1546.2,740.8 1546.8,744.4 1547.4,748.1 1548.0,751.7 1548.6,755.4 1549.2,759.0 1549.7,762.7 1550.3,766.3 1550.9,770.0 1551.5,773.6 1552.1,777.3 1552.6,780.9 1553.2,784.6 1553.8,788.2 1554.4,791.9 1555.0,795.5 1555.5,799.2 1556.1,802.8 1556.7,806.4 1557.3,810.1 1557.8,813.7 1558.4,817.4 1559.0,821.0 1559.6,824.7 1560.2,828.3 1560.7,832.0 1561.3,835.6 1561.9,839.3 1562.5,842.9 1563.0,846.6 1563.6,850.2 1564.2,853.9 1564.7,857.5 1565.3,861.2 1565.9,864.8 1566.5,868.5 1567.0,872.1 1567.6,875.8 1568.2,879.4 1568.8,883.1 1569.3,886.7 1569.9,890.4 1570.5,894.0 1571.1,897.7 1571.7,901.4 1572.2,905.0 1572.8,908.7 1573.4,912.3 1574.0,916.0 1574.5,919.6 1575.1,923.3 1575.7,926.9 1576.3,930.6 1576.9,934.2 1577.5,937.9 1578.1,941.6 1578.6,945.2 1579.2,948.9 1579.8,952.5 1580.4,956.2 1581.1,959.8 1581.7,963.5 1582.3,967.1 1582.9,970.8 1583.5,974.4 1584.2,978.1 1584.8,981.7 1585.4,985.4 1586.1,989.0 1586.7,992.6 1587.4,996.3 1588.1,999.9 1588.7,1003.6 1589.4,1007.2 1590.1,1010.8 1590.8,1014.5 1591.5,1018.1 1592.2,1021.7 1592.9,1025.3 1593.7,1029.0 1594.4,1032.6 1595.1,1036.2 1595.9,1039.8 1596.7,1043.4 1597.4,1047.1 1598.2,1050.7 1599.0,1054.3 1599.8,1057.9 1600.7,1061.5 1601.5,1065.1 1602.3,1068.7 1603.2,1072.3 1604.1,1075.8 1605.0,1079.4 1605.8,1083.0 1606.8,1086.6 1607.7,1090.2 1608.6,1093.7 1609.6,1097.3 1610.5,1100.9 1611.5,1104.4 1612.5,1108.0 1613.5,1111.5 1614.5,1115.1 1615.6,1118.6 1616.6,1122.2 1617.7,1125.7 1618.8,1129.2 1619.9,1132.7 1621.1,1136.3 1622.2,1139.8 1623.4,1143.3 1624.6,1146.7 1625.8,1150.2 1627.1,1153.7 1628.4,1157.1 1629.7,1160.6 1631.1,1164.0 1632.4,1167.4 1633.8,1170.9 1635.3,1174.3 1636.8,1177.6 1638.3,1181.0 1639.8,1184.4 1641.4,1187.7 1643.0,1191.0 1644.7,1194.3 1646.4,1197.6 1648.1,1200.9 1649.9,1204.2 1651.7,1207.4 1653.6,1210.6 1655.5,1213.8 1657.4,1217.0 1659.4,1220.2 1661.4,1223.3 1663.5,1226.4 1665.6,1229.4 1667.8,1232.5 1670.0,1235.5 1672.3,1238.4 1674.5,1241.4 1676.9,1244.3 1679.3,1247.1 1681.7,1249.9 1684.1,1252.7 1686.6,1255.4 1689.2,1258.0 1691.8,1260.6 1694.5,1263.1 1697.2,1265.6 1700.0,1267.9 1702.9,1270.1 1705.8,1272.2 1708.8,1274.2 1711.9,1276.1 1715.1,1277.9 1718.3,1279.6 1721.6,1281.3 1724.9,1282.8 1728.2,1284.3 1731.7,1285.7 1735.1,1287.0 1738.6,1288.2 1742.2,1289.4 1745.7,1290.5 1749.3,1291.5 1752.9,1292.5 1756.6,1293.5 1760.2,1294.4 1763.9,1295.2 1767.6,1296.0 1771.3,1296.8 1775.0,1297.6 1778.6,1298.3 1782.3,1299.0 1786.0,1299.6 1789.7,1300.3 1793.3,1300.9 1797.0,1301.5 1800.6,1302.2 1804.2,1302.8 1807.8,1303.4 1811.3,1304.0 1814.8,1304.6 1818.3,1305.3"/><path d="M132.9,1312.6L136.5,1312.5 140.2,1312.4 143.8,1312.2 147.4,1312.1 151.1,1312.0 154.7,1311.8 158.4,1311.7 162.0,1311.6 165.6,1311.5 169.3,1311.4 172.9,1311.3 176.6,1311.2 180.2,1311.1 183.9,1311.0 187.5,1310.9 191.2,1310.7 194.9,1310.7 198.5,1310.6 202.2,1310.5 205.8,1310.4 209.5,1310.3 213.1,1310.2 216.8,1310.1 220.5,1310.0 224.1,1309.9 227.8,1309.8 231.4,1309.7 235.1,1309.6 238.8,1309.5 242.4,1309.4 246.1,1309.3 249.8,1309.3 253.4,1309.2 257.1,1309.1 260.8,1309.0 264.4,1308.9 268.1,1308.8 271.8,1308.7 275.4,1308.6 279.1,1308.5 282.8,1308.4 286.4,1308.3 290.1,1308.2 293.8,1308.1 297.4,1308.0 301.1,1307.9 304.8,1307.8 308.5,1307.7 312.1,1307.5 315.8,1307.4 319.5,1307.3 323.1,1307.2 326.8,1307.1 330.5,1306.9 334.1,1306.8 337.8,1306.7 341.5,1306.5 345.1,1306.4 348.8,1306.2 352.5,1306.1 356.1,1305.9 359.8,1305.8 363.4,1305.6 367.1,1305.5 370.8,1305.3 374.4,1305.1 378.1,1305.0 381.7,1304.8 385.4,1304.6 389.1,1304.4 392.7,1304.2 396.4,1304.0 400.0,1303.8 403.7,1303.6 407.3,1303.4 411.0,1303.1 414.6,1302.9 418.3,1302.7 421.9,1302.4 425.6,1302.2 429.2,1301.9 432.9,1301.7 436.5,1301.4 440.2,1301.1 443.8,1300.9 447.5,1300.6 451.1,1300.3 454.7,1300.0 458.4,1299.7 462.0,1299.4 465.6,1299.1 469.3,1298.7 472.9,1298.4 476.5,1298.1 480.2,1297.7 483.8,1297.4 487.4,1297.0 491.0,1296.6 494.7,1296.3 498.3,1295.9 501.9,1295.5 505.5,1295.1 509.2,1294.7 512.8,1294.3 516.4,1293.9 520.0,1293.5 523.7,1293.1 527.3,1292.6 530.9,1292.2 534.5,1291.8 538.1,1291.3 541.8,1290.9 545.4,1290.4 549.0,1290.0 552.6,1289.5 556.3,1289.1 559.9,1288.6 563.5,1288.1 567.1,1287.6 570.8,1287.1 574.4,1286.6 578.0,1286.2 581.6,1285.7 585.3,1285.2 588.9,1284.6 592.5,1284.1 596.2,1283.6 599.8,1283.1 603.4,1282.6 607.1,1282.0 610.7,1281.5 614.4,1281.0 618.0,1280.4 621.7,1279.9 625.3,1279.4 628.9,1278.8 632.6,1278.3 636.3,1277.7 639.9,1277.1 643.6,1276.6 647.2,1276.0 650.9,1275.4 654.5,1274.9 658.2,1274.3 661.8,1273.7 665.5,1273.0 669.1,1272.4 672.8,1271.8 676.4,1271.1 680.0,1270.4 683.7,1269.7 687.3,1269.0 690.9,1268.3 694.5,1267.5 698.1,1266.7 701.7,1265.9 705.2,1265.1 708.8,1264.2 712.3,1263.3 715.9,1262.4 719.4,1261.4 722.9,1260.4 726.4,1259.4 729.9,1258.3 733.3,1257.2 736.8,1256.1 740.2,1254.9 743.6,1253.7 747.0,1252.4 750.3,1251.1 753.7,1249.7 757.0,1248.3 760.3,1246.9 763.6,1245.4 766.8,1243.8 770.1,1242.2 773.3,1240.6 776.5,1238.8 779.6,1237.1 782.7,1235.3 785.8,1233.4 788.9,1231.4 791.9,1229.4 795.0,1227.4 798.0,1225.3 800.9,1223.1 803.9,1220.9 806.8,1218.7 809.7,1216.5 812.6,1214.2 815.5,1211.9 818.4,1209.6 821.2,1207.3 824.1,1204.9 826.9,1202.6 829.8,1200.3 832.6,1197.9 835.4,1195.5 838.2,1193.2 841.0,1190.8 843.7,1188.3 846.4,1185.9 849.1,1183.4 851.8,1180.9 854.4,1178.4 857.0,1175.9 859.6,1173.3 862.1,1170.6 864.6,1168.0 867.0,1165.3 869.4,1162.6 871.8,1159.8 874.2,1157.0 876.5,1154.2 878.7,1151.3 881.0,1148.5 883.2,1145.5 885.4,1142.6 887.5,1139.7 889.7,1136.7 891.8,1133.7 893.8,1130.7 895.9,1127.6 897.9,1124.6 899.9,1121.5 901.9,1118.4 903.9,1115.3 905.9,1112.2 907.8,1109.1 909.7,1106.0 911.6,1102.9 913.5,1099.7 915.4,1096.6 917.3,1093.5 919.1,1090.3 921.0,1087.1 922.8,1084.0 924.6,1080.8 926.4,1077.6 928.2,1074.4 929.9,1071.2 931.7,1068.0 933.5,1064.8 935.2,1061.6 936.9,1058.4 938.6,1055.1 940.3,1051.9 942.0,1048.6 943.7,1045.4 945.3,1042.1 947.0,1038.9 948.6,1035.6 950.3,1032.3 951.9,1029.1 953.5,1025.8 955.1,1022.5 956.7,1019.2 958.3,1015.9 959.9,1012.6 961.4,1009.3 963.0,1006.0 964.5,1002.7 966.1,999.4 967.6,996.0 969.1,992.7 970.7,989.4 972.2,986.1 973.7,982.7 975.2,979.4 976.6,976.0 978.1,972.7 979.6,969.3 981.1,966.0 982.5,962.6 984.0,959.2 985.4,955.9 986.9,952.5 988.3,949.1 989.7,945.8 991.1,942.4 992.6,939.0 994.0,935.6 995.4,932.3 996.8,928.9 998.2,925.5 999.6,922.1 1001.0,918.7 1002.4,915.3 1003.8,911.9 1005.2,908.5 1006.5,905.1 1007.9,901.7 1009.3,898.3 1010.7,894.9 1012.0,891.5 1013.4,888.1 1014.8,884.7 1016.2,881.3 1017.5,877.9 1018.9,874.5 1020.2,871.1 1021.6,867.7 1023.0,864.3 1024.3,860.9 1025.7,857.5 1027.1,854.1 1028.4,850.7 1029.8,847.3 1031.1,843.9 1032.5,840.5 1033.9,837.1 1035.2,833.7 1036.6,830.3 1038.0,826.9 1039.4,823.5 1040.7,820.1 1042.1,816.7 1043.5,813.3 1044.9,809.9 1046.2,806.5 1047.6,803.1 1049.0,799.7 1050.4,796.4 1051.8,793.0 1053.2,789.6 1054.6,786.2 1056.0,782.9 1057.4,779.5 1058.8,776.1 1060.3,772.8 1061.7,769.4 1063.1,766.0 1064.6,762.7 1066.0,759.3 1067.5,756.0 1068.9,752.6 1070.4,749.3 1071.8,745.9 1073.3,742.6 1074.8,739.3 1076.3,735.9 1077.8,732.6 1079.3,729.3 1080.8,726.0 1082.3,722.7 1083.8,719.4 1085.3,716.0 1086.9,712.7 1088.4,709.4 1089.9,706.1 1091.5,702.8 1093.0,699.5 1094.6,696.2 1096.1,692.9 1097.7,689.6 1099.2,686.3 1100.8,683.0 1102.3,679.7 1103.9,676.5 1105.5,673.2 1107.1,669.9 1108.6,666.6 1110.2,663.3 1111.8,660.0 1113.4,656.7 1114.9,653.4 1116.5,650.1 1118.1,646.8 1119.7,643.5 1121.3,640.2 1122.9,636.9 1124.4,633.6 1126.0,630.3 1127.6,627.0 1129.2,623.7 1130.8,620.4 1132.4,617.1 1133.9,613.7 1135.5,610.4 1137.1,607.1 1138.7,603.8 1140.3,600.4 1141.8,597.1 1143.4,593.8 1145.0,590.4 1146.5,587.1 1148.1,583.7 1149.7,580.4 1151.2,577.0 1152.8,573.7 1154.4,570.3 1155.9,567.0 1157.5,563.6 1159.1,560.3 1160.8,557.0 1162.4,553.7 1164.1,550.4 1165.8,547.1 1167.5,543.8 1169.3,540.6 1171.0,537.4 1172.9,534.2 1174.7,531.0 1176.6,527.9 1178.6,524.8 1180.6,521.8 1182.6,518.7 1184.7,515.7 1186.9,512.8 1189.1,509.9 1191.3,507.0 1193.7,504.2 1196.1,501.4 1198.5,498.7 1201.1,496.1 1203.7,493.5 1206.4,490.9 1209.2,488.4 1212.0,486.0 1214.9,483.7 1217.9,481.6 1221.0,479.6 1224.1,477.9 1227.3,476.4 1230.5,475.2 1233.8,474.3 1237.1,473.8 1240.5,473.5 1243.8,473.6 1247.2,474.0 1250.5,474.7 1253.9,475.7 1257.2,476.9 1260.5,478.4 1263.7,480.1 1266.9,482.0 1270.1,484.1 1273.3,486.3 1276.4,488.5 1279.4,490.9 1282.4,493.3 1285.4,495.7 1288.2,498.2 1291.1,500.7 1293.8,503.3 1296.6,505.8 1299.2,508.5 1301.8,511.1 1304.4,513.8 1306.9,516.5 1309.3,519.2 1311.7,522.0 1314.0,524.9 1316.2,527.7 1318.4,530.6 1320.5,533.5 1322.6,536.5 1324.6,539.5 1326.5,542.5 1328.4,545.6 1330.3,548.7 1332.0,551.9 1333.7,555.0 1335.4,558.3 1337.0,561.5 1338.5,564.8 1340.0,568.1 1341.5,571.4 1342.9,574.7 1344.2,578.1 1345.6,581.5 1346.9,584.9 1348.1,588.3 1349.3,591.8 1350.5,595.2 1351.7,598.7 1352.8,602.2 1353.9,605.7 1355.0,609.2 1356.1,612.7 1357.2,616.2 1358.2,619.7 1359.3,623.3 1360.3,626.8 1361.3,630.3 1362.3,633.9 1363.4,637.4 1364.4,640.9 1365.3,644.4 1366.3,648.0 1367.3,651.5 1368.3,655.0 1369.2,658.6 1370.2,662.1 1371.2,665.6 1372.1,669.2 1373.0,672.7 1374.0,676.3 1374.9,679.8 1375.8,683.3 1376.7,686.9 1377.6,690.4 1378.5,694.0 1379.4,697.5 1380.3,701.1 1381.1,704.6 1382.0,708.2 1382.9,711.7 1383.7,715.3 1384.6,718.8 1385.4,722.4 1386.3,725.9 1387.1,729.5 1387.9,733.0 1388.7,736.6 1389.6,740.2 1390.4,743.7 1391.2,747.3 1392.0,750.8 1392.8,754.4 1393.6,758.0 1394.3,761.5 1395.1,765.1 1395.9,768.7 1396.6,772.3 1397.4,775.8 1398.2,779.4 1398.9,783.0 1399.7,786.6 1400.4,790.2 1401.1,793.7 1401.9,797.3 1402.6,800.9 1403.3,804.5 1404.0,808.1 1404.7,811.7 1405.4,815.3 1406.2,818.9 1406.9,822.5 1407.6,826.1 1408.3,829.7 1409.0,833.3 1409.6,836.9 1410.3,840.5 1411.0,844.1 1411.7,847.7 1412.4,851.3 1413.1,854.9 1413.8,858.5 1414.5,862.1 1415.2,865.7 1415.9,869.3 1416.5,872.9 1417.2,876.5 1417.9,880.1 1418.6,883.7 1419.3,887.3 1420.0,890.9 1420.7,894.5 1421.4,898.1 1422.1,901.7 1422.8,905.3 1423.5,908.9 1424.2,912.5 1424.9,916.1 1425.7,919.7 1426.4,923.3 1427.1,926.9 1427.8,930.5 1428.6,934.1 1429.3,937.7 1430.1,941.3 1430.8,944.9 1431.6,948.4 1432.3,952.0 1433.1,955.6 1433.9,959.2 1434.7,962.8 1435.5,966.3 1436.3,969.9 1437.1,973.5 1437.9,977.1 1438.7,980.6 1439.5,984.2 1440.4,987.7 1441.2,991.3 1442.1,994.9 1442.9,998.4 1443.8,1002.0 1444.7,1005.5 1445.6,1009.1 1446.5,1012.6 1447.4,1016.1 1448.3,1019.7 1449.3,1023.2 1450.2,1026.7 1451.2,1030.3 1452.1,1033.8 1453.1,1037.3 1454.1,1040.8 1455.1,1044.3 1456.1,1047.8 1457.2,1051.3 1458.2,1054.8 1459.3,1058.3 1460.3,1061.8 1461.4,1065.3 1462.5,1068.8 1463.6,1072.2 1464.8,1075.7 1465.9,1079.2 1467.1,1082.6 1468.3,1086.1 1469.5,1089.6 1470.7,1093.0 1471.9,1096.4 1473.1,1099.9 1474.4,1103.3 1475.7,1106.7 1476.9,1110.2 1478.3,1113.6 1479.6,1117.0 1480.9,1120.4 1482.3,1123.8 1483.7,1127.2 1485.1,1130.6 1486.5,1134.0 1487.9,1137.3 1489.4,1140.7 1490.9,1144.1 1492.4,1147.4 1493.9,1150.8 1495.4,1154.1 1497.0,1157.4 1498.6,1160.8 1500.2,1164.1 1501.8,1167.4 1503.5,1170.6 1505.2,1173.9 1507.0,1177.1 1508.8,1180.3 1510.6,1183.4 1512.5,1186.6 1514.4,1189.7 1516.4,1192.7 1518.4,1195.7 1520.5,1198.7 1522.7,1201.6 1524.9,1204.5 1527.1,1207.4 1529.5,1210.1 1531.8,1212.8 1534.3,1215.5 1536.8,1218.1 1539.4,1220.7 1542.1,1223.1 1544.8,1225.6 1547.6,1228.0 1550.4,1230.3 1553.3,1232.7 1556.2,1234.9 1559.1,1237.2 1562.1,1239.4 1565.1,1241.6 1568.1,1243.8 1571.1,1245.9 1574.1,1248.1 1577.2,1250.2 1580.2,1252.3 1583.3,1254.5 1586.3,1256.6 1589.3,1258.7 1592.3,1260.9 1595.4,1263.0 1598.4,1265.1 1601.3,1267.3 1604.3,1269.4 1607.3,1271.5 1610.4,1273.5 1613.4,1275.6 1616.4,1277.6 1619.4,1279.6 1622.5,1281.5 1625.6,1283.4 1628.7,1285.3 1631.8,1287.1 1635.0,1288.8 1638.1,1290.5 1641.4,1292.2 1644.6,1293.7 1647.9,1295.2 1651.3,1296.7 1654.6,1298.0 1658.1,1299.3 1661.6,1300.4 1665.1,1301.5 1668.7,1302.5 1672.3,1303.4 1676.1,1304.2"/><path d="M581.7,1295.2L586.3,1294.3 591.0,1293.4 595.6,1292.6 600.3,1291.8 605.0,1291.1 609.7,1290.4 614.5,1289.7 619.2,1289.0 624.0,1288.4 628.8,1287.8 633.6,1287.2 638.4,1286.6 643.2,1286.0 648.0,1285.4 652.8,1284.8 657.7,1284.2 662.5,1283.6 667.3,1283.0 672.2,1282.4 677.0,1281.8 681.8,1281.1 686.6,1280.4 691.4,1279.7 696.2,1279.0 701.0,1278.2 705.8,1277.4 710.6,1276.6 715.3,1275.7 720.1,1274.8 724.8,1273.8 729.5,1272.7 734.2,1271.6 738.8,1270.5 743.4,1269.3 748.1,1268.0 752.6,1266.6 757.2,1265.2 761.7,1263.7 766.2,1262.1 770.6,1260.5 775.1,1258.7 779.4,1256.8 783.8,1254.9 788.1,1252.9 792.4,1250.7 796.6,1248.5 800.8,1246.2 804.9,1243.8 809.0,1241.3 813.2,1238.8 817.2,1236.2 821.3,1233.6 825.4,1231.0 829.4,1228.4 833.4,1225.7 837.4,1223.0 841.4,1220.3 845.4,1217.5 849.3,1214.7 853.2,1211.9 857.0,1209.0 860.9,1206.1 864.6,1203.1 868.4,1200.0 872.0,1196.9 875.7,1193.8 879.3,1190.6 882.9,1187.4 886.4,1184.1 889.9,1180.8 893.3,1177.5 896.7,1174.1 900.1,1170.6 903.4,1167.1 906.7,1163.6 909.9,1160.1 913.1,1156.5 916.2,1152.8 919.3,1149.1 922.4,1145.4 925.4,1141.7 928.4,1137.9 931.3,1134.1 934.2,1130.3 937.0,1126.4 939.8,1122.5 942.5,1118.6 945.2,1114.6 947.9,1110.6 950.5,1106.6 953.1,1102.5 955.6,1098.5 958.1,1094.4 960.6,1090.3 963.0,1086.1 965.4,1081.9 967.7,1077.8 970.0,1073.6 972.3,1069.3 974.6,1065.1 976.8,1060.9 979.0,1056.6 981.2,1052.3 983.3,1048.0 985.5,1043.7 987.6,1039.4 989.7,1035.0 991.8,1030.7 993.9,1026.4 995.9,1022.0 998.0,1017.6 1000.0,1013.3 1002.1,1008.9 1004.1,1004.5 1006.1,1000.1 1008.1,995.8 1010.2,991.4 1012.2,987.0 1014.2,982.6 1016.3,978.3 1018.3,973.9 1020.3,969.5 1022.4,965.2 1024.4,960.8 1026.4,956.4 1028.5,952.1 1030.5,947.7 1032.6,943.3 1034.6,939.0 1036.7,934.6 1038.7,930.3 1040.8,925.9 1042.8,921.6 1044.9,917.2 1047.0,912.9 1049.0,908.5 1051.1,904.2 1053.2,899.8 1055.2,895.5 1057.3,891.1 1059.4,886.8 1061.5,882.5 1063.6,878.1 1065.7,873.8 1067.8,869.5 1069.9,865.1 1072.0,860.8 1074.1,856.5 1076.2,852.2 1078.3,847.8 1080.4,843.5 1082.6,839.2 1084.7,834.9 1086.8,830.6 1089.0,826.3 1091.1,822.0 1093.2,817.7 1095.4,813.4 1097.5,809.1 1099.7,804.8 1101.9,800.5 1104.0,796.2 1106.2,791.9 1108.4,787.6 1110.6,783.4 1112.8,779.1 1114.9,774.8 1117.1,770.5 1119.4,766.3 1121.6,762.0 1123.8,757.7 1126.0,753.5 1128.2,749.2 1130.5,745.0 1132.7,740.7 1134.9,736.5 1137.2,732.2 1139.4,728.0 1141.7,723.8 1144.0,719.5 1146.2,715.3 1148.5,711.1 1150.8,706.8 1153.1,702.6 1155.4,698.4 1157.7,694.2 1160.0,690.0 1162.3,685.8 1164.7,681.6 1167.0,677.4 1169.3,673.2 1171.7,669.0 1174.0,664.8 1176.4,660.6 1178.8,656.4 1181.1,652.3 1183.5,648.1 1185.9,643.9 1188.3,639.7 1190.7,635.6 1193.1,631.4 1195.6,627.3 1198.0,623.1 1200.4,619.0 1202.9,614.8 1205.3,610.7 1207.8,606.6 1210.2,602.4 1212.7,598.3 1215.2,594.2 1217.7,590.1 1220.2,586.0 1222.7,581.9 1225.2,577.8 1227.8,573.7 1230.3,569.6 1232.8,565.5 1235.4,561.4 1238.0,557.3 1240.5,553.2 1243.1,549.2 1245.7,545.1 1248.3,541.0 1250.9,537.0 1253.5,532.9 1256.2,528.9 1258.8,524.8 1261.4,520.8 1264.1,516.8 1266.8,512.7 1269.4,508.7 1272.1,504.7 1274.8,500.7 1277.5,496.7 1280.2,492.7 1283.0,488.7 1285.7,484.7 1288.5,480.7 1291.3,476.8 1294.2,472.9 1297.1,469.1 1300.1,465.3 1303.2,461.6 1306.3,458.0 1309.6,454.5 1313.0,451.0 1316.5,447.7 1320.1,444.5 1323.9,441.5 1327.8,438.6 1331.8,436.0 1336.0,433.8 1340.3,431.9 1344.7,430.5 1349.2,429.6 1353.8,429.2 1358.5,429.2 1363.1,429.6 1367.8,430.5 1372.4,431.6 1376.9,433.1 1381.3,434.9 1385.7,436.9 1389.9,439.2 1394.0,441.7 1398.0,444.4 1401.9,447.4 1405.6,450.5 1409.3,453.7 1412.9,457.1 1416.3,460.7 1419.7,464.4 1422.9,468.1 1426.0,471.9 1429.0,475.8 1431.8,479.8 1434.6,483.8 1437.3,487.8 1439.8,491.9 1442.3,496.1 1444.7,500.2 1447.0,504.4 1449.2,508.7 1451.3,512.9 1453.4,517.2 1455.4,521.6 1457.4,525.9 1459.3,530.3 1461.1,534.7 1463.0,539.1 1464.8,543.5 1466.5,547.9 1468.3,552.4 1470.0,556.8 1471.7,561.3 1473.4,565.8 1475.0,570.3 1476.6,574.8 1478.2,579.3 1479.8,583.8 1481.4,588.3 1482.9,592.8 1484.4,597.4 1485.9,601.9 1487.4,606.5 1488.9,611.1 1490.3,615.6 1491.7,620.2 1493.1,624.8 1494.5,629.4 1495.9,634.0 1497.3,638.6 1498.6,643.2 1499.9,647.9 1501.2,652.5 1502.5,657.1 1503.8,661.8 1505.1,666.4 1506.3,671.1 1507.6,675.7 1508.8,680.4 1510.0,685.1 1511.2,689.7 1512.4,694.4 1513.6,699.1 1514.8,703.8 1516.0,708.4 1517.1,713.1 1518.3,717.8 1519.4,722.5 1520.5,727.2 1521.7,731.9 1522.8,736.6 1523.9,741.3 1525.0,746.0 1526.1,750.7 1527.2,755.4 1528.3,760.1 1529.4,764.8 1530.4,769.5 1531.5,774.2 1532.6,778.9 1533.7,783.6 1534.7,788.3 1535.8,793.0 1536.9,797.7 1537.9,802.4 1539.0,807.1 1540.1,811.8 1541.1,816.5 1542.2,821.2 1543.3,825.8 1544.4,830.5 1545.4,835.2 1546.5,839.9 1547.6,844.6 1548.7,849.2 1549.7,853.9 1550.8,858.6 1551.9,863.2 1553.0,867.9 1554.0,872.6 1555.1,877.2 1556.2,881.9 1557.2,886.6 1558.3,891.3 1559.4,895.9 1560.4,900.6 1561.5,905.3 1562.5,910.0 1563.6,914.6 1564.6,919.3 1565.6,924.0 1566.6,928.7 1567.7,933.4 1568.7,938.1 1569.7,942.8 1570.7,947.5 1571.6,952.2 1572.6,956.9 1573.6,961.7 1574.6,966.4 1575.6,971.1 1576.7,975.8 1577.7,980.5 1578.8,985.2 1579.9,989.9 1581.0,994.6 1582.2,999.3 1583.5,1003.9 1584.7,1008.5 1586.1,1013.2 1587.5,1017.8 1589.0,1022.3 1590.5,1026.9 1592.1,1031.4 1593.8,1035.9 1595.6,1040.4 1597.5,1044.8"/></g>
<text x="410.0" y="275.7" font-family="'Liberation Serif', 'DejaVu Serif', serif" font-style="italic" font-weight="normal" font-size="61.0" text-anchor="start" fill="#f0f0f0" textLength="174.0" lengthAdjust="spacingAndGlyphs" stroke="#f0f0f0" stroke-width="1.4" >Curves</text>
<text x="468.0" y="334.8" font-family="'Liberation Serif', 'DejaVu Serif', serif" font-style="italic" font-weight="normal" font-size="50.0" text-anchor="start" fill="#f0f0f0" textLength="42.0" lengthAdjust="spacingAndGlyphs" stroke="#f0f0f0" stroke-width="1.4" >of</text>
<text x="341.0" y="399.6" font-family="'Liberation Serif', 'DejaVu Serif', serif" font-style="italic" font-weight="normal" font-size="71.0" text-anchor="start" fill="#f0f0f0" textLength="302.0" lengthAdjust="spacingAndGlyphs" stroke="#f0f0f0" stroke-width="1.4" >Luminosity</text>
<text transform="translate(1056.0,650.5) rotate(-66.4)" font-family="'Liberation Serif', 'DejaVu Serif', serif" font-style="italic" font-weight="normal" font-size="46.0" fill="#f0f0f0" stroke="#f0f0f0" stroke-width="0.9" textLength="352.0" lengthAdjust="spacingAndGlyphs">Normal vision</text>
<text transform="translate(1322.0,684.0) rotate(77.2)" font-family="'Liberation Serif', 'DejaVu Serif', serif" font-style="italic" font-weight="normal" font-size="56.0" fill="#f0f0f0" stroke="#f0f0f0" stroke-width="0.9" textLength="279.0" lengthAdjust="spacingAndGlyphs">Red - blind</text>
<text transform="translate(1425.0,558.0) rotate(75.8)" font-family="'Liberation Serif', 'DejaVu Serif', serif" font-style="italic" font-weight="normal" font-size="52.0" fill="#f0f0f0" stroke="#f0f0f0" stroke-width="0.9" textLength="318.0" lengthAdjust="spacingAndGlyphs">Green-blind</text>
<text transform="translate(1947.0,870.0) rotate(-90.0)" font-family="'Liberation Serif', 'DejaVu Serif', serif" font-style="italic" font-weight="bold" font-size="50.0" fill="#f0f0f0" stroke="#f0f0f0" stroke-width="0.0" textLength="298.0" lengthAdjust="spacingAndGlyphs">Luminosity</text>
<text x="662.0" y="1405.0" font-family="'Liberation Serif', 'DejaVu Serif', serif" font-style="italic" font-weight="bold" font-size="53.0" text-anchor="start" fill="#f0f0f0" textLength="136.0" lengthAdjust="spacingAndGlyphs" >Scale</text>
<text x="836.0" y="1405.0" font-family="'Liberation Serif', 'DejaVu Serif', serif" font-style="italic" font-weight="bold" font-size="53.0" text-anchor="start" fill="#f0f0f0" textLength="56.0" lengthAdjust="spacingAndGlyphs" >of</text>
<text x="933.0" y="1405.0" font-family="'Liberation Serif', 'DejaVu Serif', serif" font-style="italic" font-weight="bold" font-size="53.0" text-anchor="start" fill="#f0f0f0" textLength="245.0" lengthAdjust="spacingAndGlyphs" >Spectrum</text>
<text x="38.0" y="1355.5" font-family="'Liberation Sans', 'DejaVu Sans', sans-serif" font-style="normal" font-weight="bold" font-size="37.0" text-anchor="middle" fill="#f0f0f0" textLength="19.8" lengthAdjust="spacingAndGlyphs" >6</text>
<text x="98.0" y="1355.4" font-family="'Liberation Sans', 'DejaVu Sans', sans-serif" font-style="normal" font-weight="bold" font-size="37.0" text-anchor="middle" fill="#f0f0f0" textLength="22.5" lengthAdjust="spacingAndGlyphs" >8</text>
<text x="154.5" y="1355.2" font-family="'Liberation Sans', 'DejaVu Sans', sans-serif" font-style="normal" font-weight="bold" font-size="37.0" text-anchor="middle" fill="#f0f0f0" textLength="26.5" lengthAdjust="spacingAndGlyphs" >10</text>
<text x="215.5" y="1355.1" font-family="'Liberation Sans', 'DejaVu Sans', sans-serif" font-style="normal" font-weight="bold" font-size="37.0" text-anchor="middle" fill="#f0f0f0" textLength="28.5" lengthAdjust="spacingAndGlyphs" >12</text>
<text x="276.0" y="1355.0" font-family="'Liberation Sans', 'DejaVu Sans', sans-serif" font-style="normal" font-weight="bold" font-size="37.0" text-anchor="middle" fill="#f0f0f0" textLength="29.5" lengthAdjust="spacingAndGlyphs" >14</text>
<text x="333.0" y="1354.8" font-family="'Liberation Sans', 'DejaVu Sans', sans-serif" font-style="normal" font-weight="bold" font-size="37.0" text-anchor="middle" fill="#f0f0f0" textLength="27.5" lengthAdjust="spacingAndGlyphs" >16</text>
<text x="399.0" y="1354.7" font-family="'Liberation Sans', 'DejaVu Sans', sans-serif" font-style="normal" font-weight="bold" font-size="37.0" text-anchor="middle" fill="#f0f0f0" textLength="29.5" lengthAdjust="spacingAndGlyphs" >18</text>
<text x="455.5" y="1354.6" font-family="'Liberation Sans', 'DejaVu Sans', sans-serif" font-style="normal" font-weight="bold" font-size="37.0" text-anchor="middle" fill="#f0f0f0" textLength="32.5" lengthAdjust="spacingAndGlyphs" >20</text>
<text x="520.0" y="1354.4" font-family="'Liberation Sans', 'DejaVu Sans', sans-serif" font-style="normal" font-weight="bold" font-size="37.0" text-anchor="middle" fill="#f0f0f0" textLength="35.5" lengthAdjust="spacingAndGlyphs" >22</text>
<text x="580.8" y="1354.3" font-family="'Liberation Sans', 'DejaVu Sans', sans-serif" font-style="normal" font-weight="bold" font-size="37.0" text-anchor="middle" fill="#f0f0f0" textLength="38.5" lengthAdjust="spacingAndGlyphs" >24</text>
<text x="636.4" y="1354.2" font-family="'Liberation Sans', 'DejaVu Sans', sans-serif" font-style="normal" font-weight="bold" font-size="37.0" text-anchor="middle" fill="#f0f0f0" textLength="36.5" lengthAdjust="spacingAndGlyphs" >26</text>
<text x="697.3" y="1354.0" font-family="'Liberation Sans', 'DejaVu Sans', sans-serif" font-style="normal" font-weight="bold" font-size="37.0" text-anchor="middle" fill="#f0f0f0" textLength="33.5" lengthAdjust="spacingAndGlyphs" >28</text>
<text x="755.5" y="1353.9" font-family="'Liberation Sans', 'DejaVu Sans', sans-serif" font-style="normal" font-weight="bold" font-size="37.0" text-anchor="middle" fill="#f0f0f0" textLength="33.5" lengthAdjust="spacingAndGlyphs" >30</text>
<text x="818.2" y="1353.8" font-family="'Liberation Sans', 'DejaVu Sans', sans-serif" font-style="normal" font-weight="bold" font-size="37.0" text-anchor="middle" fill="#f0f0f0" textLength="35.5" lengthAdjust="spacingAndGlyphs" >32</text>
<text x="879.0" y="1353.6" font-family="'Liberation Sans', 'DejaVu Sans', sans-serif" font-style="normal" font-weight="bold" font-size="37.0" text-anchor="middle" fill="#f0f0f0" textLength="40.5" lengthAdjust="spacingAndGlyphs" >34</text>
<text x="935.5" y="1353.5" font-family="'Liberation Sans', 'DejaVu Sans', sans-serif" font-style="normal" font-weight="bold" font-size="37.0" text-anchor="middle" fill="#f0f0f0" textLength="37.1" lengthAdjust="spacingAndGlyphs" >36</text>
<text x="996.4" y="1353.4" font-family="'Liberation Sans', 'DejaVu Sans', sans-serif" font-style="normal" font-weight="bold" font-size="37.0" text-anchor="middle" fill="#f0f0f0" textLength="38.5" lengthAdjust="spacingAndGlyphs" >38</text>
<text x="1055.5" y="1353.2" font-family="'Liberation Sans', 'DejaVu Sans', sans-serif" font-style="normal" font-weight="bold" font-size="37.0" text-anchor="middle" fill="#f0f0f0" textLength="37.0" lengthAdjust="spacingAndGlyphs" >40</text>
<text x="1113.7" y="1353.1" font-family="'Liberation Sans', 'DejaVu Sans', sans-serif" font-style="normal" font-weight="bold" font-size="37.0" text-anchor="middle" fill="#f0f0f0" textLength="36.9" lengthAdjust="spacingAndGlyphs" >42</text>
<text x="1175.5" y="1353.0" font-family="'Liberation Sans', 'DejaVu Sans', sans-serif" font-style="normal" font-weight="bold" font-size="37.0" text-anchor="middle" fill="#f0f0f0" textLength="41.0" lengthAdjust="spacingAndGlyphs" >44</text>
<text x="1238.0" y="1352.8" font-family="'Liberation Sans', 'DejaVu Sans', sans-serif" font-style="normal" font-weight="bold" font-size="37.0" text-anchor="middle" fill="#f0f0f0" textLength="41.5" lengthAdjust="spacingAndGlyphs" >46</text>
<text x="1298.0" y="1352.7" font-family="'Liberation Sans', 'DejaVu Sans', sans-serif" font-style="normal" font-weight="bold" font-size="37.0" text-anchor="middle" fill="#f0f0f0" textLength="43.5" lengthAdjust="spacingAndGlyphs" >48</text>
<text x="1358.0" y="1352.6" font-family="'Liberation Sans', 'DejaVu Sans', sans-serif" font-style="normal" font-weight="bold" font-size="37.0" text-anchor="middle" fill="#f0f0f0" textLength="37.5" lengthAdjust="spacingAndGlyphs" >50</text>
<text x="1421.0" y="1352.4" font-family="'Liberation Sans', 'DejaVu Sans', sans-serif" font-style="normal" font-weight="bold" font-size="37.0" text-anchor="middle" fill="#f0f0f0" textLength="37.5" lengthAdjust="spacingAndGlyphs" >52</text>
<text x="1479.5" y="1352.3" font-family="'Liberation Sans', 'DejaVu Sans', sans-serif" font-style="normal" font-weight="bold" font-size="37.0" text-anchor="middle" fill="#f0f0f0" textLength="40.5" lengthAdjust="spacingAndGlyphs" >54</text>
<text x="1543.0" y="1352.2" font-family="'Liberation Sans', 'DejaVu Sans', sans-serif" font-style="normal" font-weight="bold" font-size="37.0" text-anchor="middle" fill="#f0f0f0" textLength="37.5" lengthAdjust="spacingAndGlyphs" >56</text>
<text x="1606.0" y="1352.0" font-family="'Liberation Sans', 'DejaVu Sans', sans-serif" font-style="normal" font-weight="bold" font-size="37.0" text-anchor="middle" fill="#f0f0f0" textLength="39.5" lengthAdjust="spacingAndGlyphs" >58</text>
<text x="1659.8" y="1351.9" font-family="'Liberation Sans', 'DejaVu Sans', sans-serif" font-style="normal" font-weight="bold" font-size="37.0" text-anchor="middle" fill="#f0f0f0" textLength="35.0" lengthAdjust="spacingAndGlyphs" >60</text>
<text x="1719.5" y="1351.8" font-family="'Liberation Sans', 'DejaVu Sans', sans-serif" font-style="normal" font-weight="bold" font-size="37.0" text-anchor="middle" fill="#f0f0f0" textLength="36.5" lengthAdjust="spacingAndGlyphs" >62</text>
<text x="1782.5" y="1351.6" font-family="'Liberation Sans', 'DejaVu Sans', sans-serif" font-style="normal" font-weight="bold" font-size="37.0" text-anchor="middle" fill="#f0f0f0" textLength="40.5" lengthAdjust="spacingAndGlyphs" >64</text>
<text x="1843.5" y="1351.5" font-family="'Liberation Sans', 'DejaVu Sans', sans-serif" font-style="normal" font-weight="bold" font-size="37.0" text-anchor="middle" fill="#f0f0f0" textLength="36.5" lengthAdjust="spacingAndGlyphs" >66</text>
<text x="1890.0" y="113.3" font-family="'Liberation Sans', 'DejaVu Sans', sans-serif" font-style="normal" font-weight="bold" font-size="37.0" text-anchor="end" fill="#f0f0f0" textLength="44.8" lengthAdjust="spacingAndGlyphs" >100</text>
<text x="1890.0" y="231.4" font-family="'Liberation Sans', 'DejaVu Sans', sans-serif" font-style="normal" font-weight="bold" font-size="37.0" text-anchor="end" fill="#f0f0f0" textLength="41.1" lengthAdjust="spacingAndGlyphs" >90</text>
<text x="1890.0" y="353.6" font-family="'Liberation Sans', 'DejaVu Sans', sans-serif" font-style="normal" font-weight="bold" font-size="37.0" text-anchor="end" fill="#f0f0f0" textLength="37.8" lengthAdjust="spacingAndGlyphs" >80</text>
<text x="1890.0" y="473.3" font-family="'Liberation Sans', 'DejaVu Sans', sans-serif" font-style="normal" font-weight="bold" font-size="37.0" text-anchor="end" fill="#f0f0f0" textLength="38.8" lengthAdjust="spacingAndGlyphs" >70</text>
<text x="1890.0" y="595.1" font-family="'Liberation Sans', 'DejaVu Sans', sans-serif" font-style="normal" font-weight="bold" font-size="37.0" text-anchor="end" fill="#f0f0f0" textLength="39.3" lengthAdjust="spacingAndGlyphs" >60</text>
<text x="1890.0" y="716.0" font-family="'Liberation Sans', 'DejaVu Sans', sans-serif" font-style="normal" font-weight="bold" font-size="37.0" text-anchor="end" fill="#f0f0f0" textLength="40.2" lengthAdjust="spacingAndGlyphs" >50</text>
<text x="1890.0" y="838.6" font-family="'Liberation Sans', 'DejaVu Sans', sans-serif" font-style="normal" font-weight="bold" font-size="37.0" text-anchor="end" fill="#f0f0f0" textLength="40.4" lengthAdjust="spacingAndGlyphs" >40</text>
<text x="1890.0" y="958.6" font-family="'Liberation Sans', 'DejaVu Sans', sans-serif" font-style="normal" font-weight="bold" font-size="37.0" text-anchor="end" fill="#f0f0f0" textLength="39.8" lengthAdjust="spacingAndGlyphs" >30</text>
<text x="1890.0" y="1082.6" font-family="'Liberation Sans', 'DejaVu Sans', sans-serif" font-style="normal" font-weight="bold" font-size="37.0" text-anchor="end" fill="#f0f0f0" textLength="39.3" lengthAdjust="spacingAndGlyphs" >20</text>
<text x="1890.0" y="1203.6" font-family="'Liberation Sans', 'DejaVu Sans', sans-serif" font-style="normal" font-weight="bold" font-size="37.0" text-anchor="end" fill="#f0f0f0" textLength="32.1" lengthAdjust="spacingAndGlyphs" >10</text>
<text x="1878.5" y="1308.8" font-family="'Liberation Sans', 'DejaVu Sans', sans-serif" font-style="normal" font-weight="bold" font-size="37.0" text-anchor="end" fill="#f0f0f0" textLength="19.5" lengthAdjust="spacingAndGlyphs" >0</text>
<text x="197.0" y="1271.0" font-family="'Liberation Serif', 'DejaVu Serif', serif" font-style="italic" font-weight="bold" font-size="48.0" text-anchor="middle" fill="#f0f0f0" >G</text>
<line x1="187.0" y1="1278.0" x2="187.0" y2="1313.1" stroke="#ececec" stroke-width="5.5"/>
<text x="539.0" y="1273.0" font-family="'Liberation Serif', 'DejaVu Serif', serif" font-style="italic" font-weight="bold" font-size="48.0" text-anchor="middle" fill="#f0f0f0" >Li</text>
<line x1="541.0" y1="1280.0" x2="541.0" y2="1312.6" stroke="#ececec" stroke-width="5.5"/>
<text x="998.0" y="1272.0" font-family="'Liberation Serif', 'DejaVu Serif', serif" font-style="italic" font-weight="bold" font-size="48.0" text-anchor="middle" fill="#f0f0f0" >b</text>
<line x1="996.4" y1="1277.0" x2="996.4" y2="1311.0" stroke="#ececec" stroke-width="5.5"/>
<text x="1058.0" y="1271.0" font-family="'Liberation Serif', 'DejaVu Serif', serif" font-style="italic" font-weight="bold" font-size="48.0" text-anchor="middle" fill="#f0f0f0" >E</text>
<line x1="1057.0" y1="1275.0" x2="1057.0" y2="1310.6" stroke="#ececec" stroke-width="5.5"/>
<text x="1376.0" y="1268.0" font-family="'Liberation Serif', 'DejaVu Serif', serif" font-style="italic" font-weight="bold" font-size="48.0" text-anchor="middle" fill="#f0f0f0" >D</text>
<line x1="1378.5" y1="1277.0" x2="1378.5" y2="1308.4" stroke="#ececec" stroke-width="5.5"/>
<text x="1603.0" y="1265.0" font-family="'Liberation Serif', 'DejaVu Serif', serif" font-style="italic" font-weight="bold" font-size="48.0" text-anchor="middle" fill="#f0f0f0" >C</text>
<line x1="1609.5" y1="1274.0" x2="1609.5" y2="1306.7" stroke="#ececec" stroke-width="5.5"/>
<text x="1646.0" y="1265.0" font-family="'Liberation Serif', 'DejaVu Serif', serif" font-style="italic" font-weight="bold" font-size="48.0" text-anchor="middle" fill="#f0f0f0" >Li</text>
<line x1="1647.8" y1="1275.0" x2="1647.8" y2="1306.5" stroke="#ececec" stroke-width="5.5"/>
<text x="1703.0" y="1265.0" font-family="'Liberation Serif', 'DejaVu Serif', serif" font-style="italic" font-weight="bold" font-size="48.0" text-anchor="middle" fill="#f0f0f0" >B</text>
<line x1="1702.0" y1="1273.0" x2="1702.0" y2="1306.2" stroke="#ececec" stroke-width="5.5"/>
</svg></body></html>
